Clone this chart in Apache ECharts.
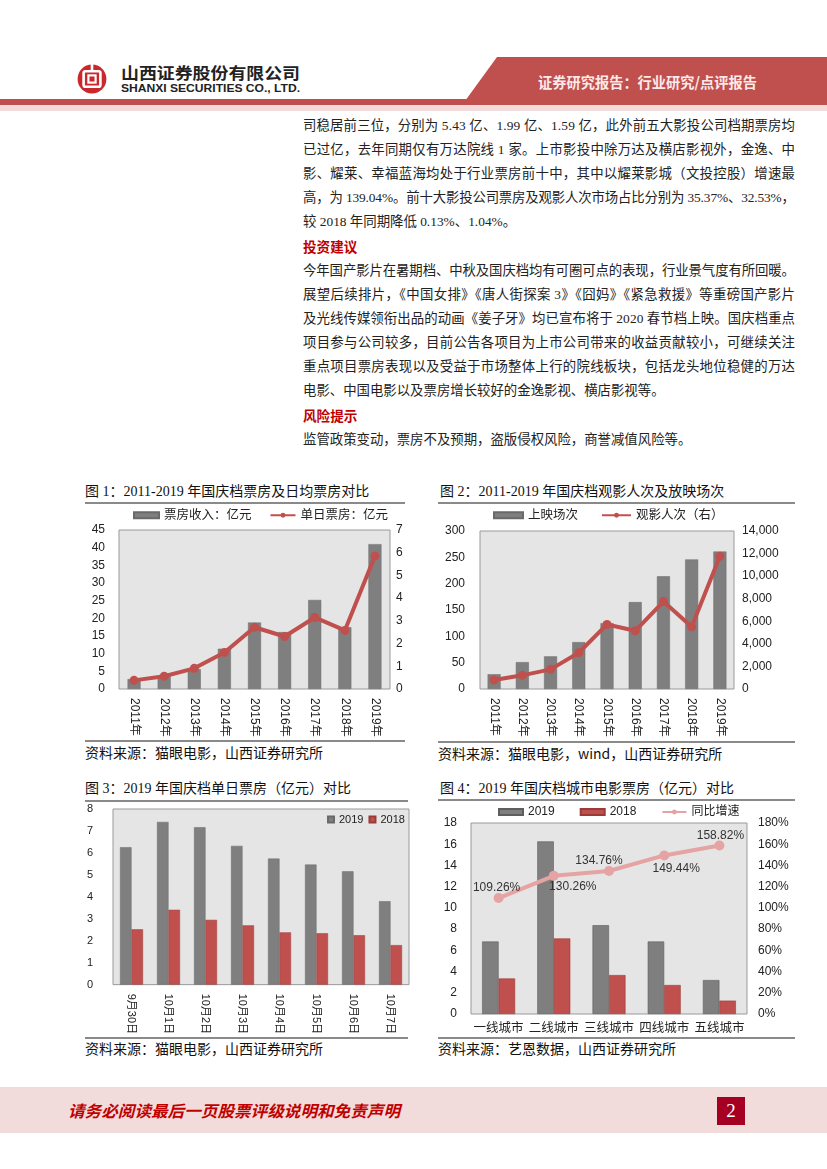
<!DOCTYPE html>
<html><head><meta charset="utf-8">
<script src="https://cdn.jsdelivr.net/npm/echarts@6/dist/echarts.min.js"></script>
<style>
html,body{margin:0;padding:0;background:#fff;}
#page{position:relative;width:827px;height:1169px;overflow:hidden;font-family:"Liberation Serif","Noto Sans CJK SC",serif;}
.abs{position:absolute;white-space:nowrap;}
.jl{position:absolute;left:303px;height:20px;line-height:20px;font-size:13.4px;color:#222;white-space:nowrap;}
.hd{position:absolute;left:303px;height:20px;line-height:20px;font-size:13.6px;color:#c00000;font-weight:bold;font-family:"Noto Sans CJK SC",sans-serif;white-space:nowrap;}
.ttl{position:absolute;height:20px;line-height:20px;font-size:14px;color:#111;white-space:nowrap;}
.src{position:absolute;height:20px;line-height:20px;font-size:14px;color:#111;white-space:nowrap;font-family:"Noto Sans CJK SC",sans-serif;}
.rule{position:absolute;height:2px;background:#8a8a8a;}
.chart{position:absolute;}
</style></head>
<body><div id="page">
<!-- header -->
<svg class="abs" style="left:77px;top:64px" width="30" height="30" viewBox="0 0 25 25">
<circle cx="12.5" cy="12.5" r="12" fill="#c9282d"/>
<rect x="5.5" y="6" width="14" height="13" rx="1.5" fill="none" stroke="#fff" stroke-width="2.2"/>
<rect x="9.5" y="9.5" width="6" height="6" fill="none" stroke="#fff" stroke-width="1.8"/>
<rect x="11.4" y="0" width="2.2" height="6" fill="#fff"/>
</svg>
<div class="abs fit" data-w="179" style="left:121px;top:62px;font-size:16px;line-height:20px;font-weight:bold;color:#222;font-family:'Noto Sans CJK SC',sans-serif;">山西证券股份有限公司</div>
<div class="abs fit" data-w="179" style="left:121px;top:81px;font-size:11.5px;line-height:14px;font-weight:bold;color:#222;font-family:'Liberation Sans',sans-serif;">SHANXI SECURITIES CO., LTD.</div>
<svg class="abs" style="left:0;top:55px" width="827" height="60">
<polygon points="497,2 827,2 827,46 465,46" fill="#c0504d"/>
<rect x="0" y="44" width="827" height="6" fill="#c0504d"/>
<rect x="0" y="50" width="827" height="6" fill="#f2dcdb"/>
</svg>
<div class="abs fit" data-w="219" style="left:538px;top:72px;font-size:14.5px;line-height:20px;font-weight:bold;color:#fde9e9;font-family:'Noto Sans CJK SC',sans-serif;">证券研究报告：行业研究/点评报告</div>

<!-- body text -->
<div class="jl just" style="top:116px">司稳居前三位，分别为 5.43 亿、1.99 亿、1.59 亿，此外前五大影投公司档期票房均</div>
<div class="jl just" style="top:140px">已过亿，去年同期仅有万达院线 1 家。上市影投中除万达及横店影视外，金逸、中</div>
<div class="jl just" style="top:164px">影、耀莱、幸福蓝海均处于行业票房前十中，其中以耀莱影城（文投控股）增速最</div>
<div class="jl just" style="top:188px">高，为 139.04%。前十大影投公司票房及观影人次市场占比分别为 35.37%、32.53%，</div>
<div class="jl" style="top:212px">较 2018 年同期降低 0.13%、1.04%。</div>
<div class="hd" style="top:236px">投资建议</div>
<div class="jl just" style="top:261px">今年国产影片在暑期档、中秋及国庆档均有可圈可点的表现，行业景气度有所回暖。</div>
<div class="jl just" style="top:285px">展望后续排片，《中国女排》《唐人街探案 3》《囧妈》《紧急救援》等重磅国产影片</div>
<div class="jl just" style="top:309px">及光线传媒领衔出品的动画《姜子牙》均已宣布将于 2020 春节档上映。国庆档重点</div>
<div class="jl just" style="top:333px">项目参与公司较多，目前公告各项目为上市公司带来的收益贡献较小，可继续关注</div>
<div class="jl just" style="top:357px">重点项目票房表现以及受益于市场整体上行的院线板块，包括龙头地位稳健的万达</div>
<div class="jl" style="top:381px">电影、中国电影以及票房增长较好的金逸影视、横店影视等。</div>
<div class="hd" style="top:405px">风险提示</div>
<div class="jl" style="top:430px">监管政策变动，票房不及预期，盗版侵权风险，商誉减值风险等。</div>

<!-- chart frames -->
<div class="ttl" style="left:85px;top:482px">图 1：2011-2019 年国庆档票房及日均票房对比</div>
<div class="rule" style="left:85px;top:502px;width:320px"></div>
<div class="rule" style="left:85px;top:740px;width:320px"></div>
<div class="src" style="left:85px;top:742px">资料来源：猫眼电影，山西证券研究所</div>

<div class="ttl" style="left:440px;top:482px">图 2：2011-2019 年国庆档观影人次及放映场次</div>
<div class="rule" style="left:438px;top:502px;width:357px"></div>
<div class="rule" style="left:438px;top:741px;width:357px"></div>
<div class="src" style="left:438px;top:743px">资料来源：猫眼电影，wind，山西证券研究所</div>

<div class="ttl" style="left:85px;top:779px">图 3：2019 年国庆档单日票房（亿元）对比</div>
<div class="rule" style="left:85px;top:800px;width:323px"></div>
<div class="rule" style="left:85px;top:1037px;width:323px"></div>
<div class="src" style="left:85px;top:1038px">资料来源：猫眼电影，山西证券研究所</div>

<div class="ttl" style="left:440px;top:779px">图 4：2019 年国庆档城市电影票房（亿元）对比</div>
<div class="rule" style="left:438px;top:799px;width:357px"></div>
<div class="rule" style="left:438px;top:1037px;width:357px"></div>
<div class="src" style="left:438px;top:1038px">资料来源：艺恩数据，山西证券研究所</div>

<div id="c1" class="chart" style="left:80px;top:505px;width:330px;height:235px"></div>
<div id="c2" class="chart" style="left:430px;top:505px;width:397px;height:235px"></div>
<div id="c3" class="chart" style="left:80px;top:800px;width:330px;height:237px"></div>
<div id="c4" class="chart" style="left:430px;top:800px;width:397px;height:237px"></div>

<!-- footer -->
<div class="abs" style="left:0;top:1087px;width:827px;height:46px;background:#f2dcdb"></div>
<div class="abs fit" data-w="332" style="left:68px;top:1100px;font-size:16px;line-height:20px;font-weight:bold;color:#c00000;font-family:'Noto Sans CJK SC',sans-serif;font-style:italic;">请务必阅读最后一页股票评级说明和免责声明</div>
<div class="abs" style="left:717px;top:1097px;width:28px;height:28px;background:#a50021;color:#fff;font-size:19px;line-height:28px;text-align:center;font-family:'Liberation Serif',serif;">2</div>
</div>
<script>
// ---- data ----
const years = ['2011年','2012年','2013年','2014年','2015年','2016年','2017年','2018年','2019年'];
const boxOffice = [2.8, 3.6, 5.6, 11.4, 18.8, 16.1, 25.2, 17.5, 41.0];
const dailyBoxOffice = [0.38, 0.56, 0.91, 1.61, 2.72, 2.31, 3.15, 2.58, 5.86];
const screenings = [28, 51, 62, 89, 125, 165, 214, 246, 261];
const admissions = [800, 1210, 1740, 3210, 5720, 5160, 7750, 5510, 11760];
const days = ['9月30日','10月1日','10月2日','10月3日','10月4日','10月5日','10月6日','10月7日'];
const daily2019 = [6.26, 7.41, 7.17, 6.32, 5.74, 5.47, 5.16, 3.80];
const daily2018 = [2.52, 3.41, 2.95, 2.70, 2.38, 2.34, 2.25, 1.80];
const cities = ['一线城市','二线城市','三线城市','四线城市','五线城市'];
const city2019 = [6.83, 16.27, 8.37, 6.83, 3.20];
const city2018 = [3.35, 7.12, 3.67, 2.73, 1.26];
const cityGrowth = [109.26, 130.26, 134.76, 149.44, 158.82];
// label offsets (style only)
const growthLabelOffsets = [[-2,-10],[19,11],[-10,-10],[12,13],[1,-10]];

// ---- text fitting ----
document.querySelectorAll('.just').forEach(el => {
  const w = el.getBoundingClientRect().width;
  const n = el.textContent.length;
  const ls = (492 - w) / (n - 1);
  el.style.letterSpacing = ls + 'px';
});
document.querySelectorAll('.fit').forEach(el => {
  const target = +el.dataset.w;
  const w = el.getBoundingClientRect().width;
  el.style.transformOrigin = '0 0';
  el.style.transform = 'scaleX(' + (target / w) + ')';
});

const GRAY = '#7f7f7f', RED = '#c0504d';
const FONT = "'Liberation Sans','Noto Sans CJK SC',sans-serif";
const lab = (extra) => Object.assign({color:'#222', fontSize:12, fontFamily:FONT}, extra||{});
const gridBase = {show:true, backgroundColor:'#e5e5e5', borderColor:'#9a9a9a', borderWidth:1, containLabel:false};
const noLines = {axisLine:{show:false}, axisTick:{show:false}, splitLine:{show:false}};

// Chart 1
echarts.init(document.getElementById('c1')).setOption({
  animation:false,
  legend:{left:53, top:4, padding:0, itemGap:18, itemWidth:25, itemHeight:6,
    textStyle:{fontSize:12.5, color:'#222', fontFamily:FONT},
    data:[{name:'票房收入：亿元', icon:'rect'}, {name:'单日票房：亿元'}]},
  grid:Object.assign({left:39, top:25, width:271, height:159}, gridBase),
  xAxis:Object.assign({type:'category', data:years,
    axisLabel:lab({rotate:-90, margin:9, interval:0})}, noLines),
  yAxis:[
    Object.assign({type:'value', min:0, max:45, interval:5, axisLabel:lab({margin:14})}, noLines),
    Object.assign({type:'value', min:0, max:7, interval:1, axisLabel:lab({margin:6})}, noLines)
  ],
  series:[
    {name:'票房收入：亿元', type:'bar', data:boxOffice, barWidth:13, itemStyle:{color:GRAY, borderColor:'#6a6a6a', borderWidth:0.5}},
    {name:'单日票房：亿元', type:'line', yAxisIndex:1, data:dailyBoxOffice, symbol:'circle', symbolSize:9,
      lineStyle:{color:RED, width:4}, itemStyle:{color:RED}}
  ]
});

// Chart 2
echarts.init(document.getElementById('c2')).setOption({
  animation:false,
  legend:{left:63, top:4, padding:0, itemGap:23, itemWidth:29, itemHeight:6,
    textStyle:{fontSize:12.5, color:'#222', fontFamily:FONT},
    data:[{name:'上映场次', icon:'rect'}, {name:'观影人次（右）'}]},
  grid:Object.assign({left:50, top:26, width:254, height:158}, gridBase),
  xAxis:Object.assign({type:'category', data:years,
    axisLabel:lab({rotate:-90, margin:9, interval:0})}, noLines),
  yAxis:[
    Object.assign({type:'value', min:0, max:300, interval:50, axisLabel:lab({margin:15})}, noLines),
    Object.assign({type:'value', min:0, max:14000, interval:2000,
      axisLabel:lab({margin:8, formatter:v => v.toLocaleString('en-US')})}, noLines)
  ],
  series:[
    {name:'上映场次', type:'bar', data:screenings, barWidth:13, itemStyle:{color:GRAY, borderColor:'#6a6a6a', borderWidth:0.5}},
    {name:'观影人次（右）', type:'line', yAxisIndex:1, data:admissions, symbol:'circle', symbolSize:9,
      lineStyle:{color:RED, width:4}, itemStyle:{color:RED}}
  ]
});

// Chart 3
echarts.init(document.getElementById('c3')).setOption({
  animation:false,
  legend:{left:247, top:14, padding:0, itemGap:5, itemWidth:6, itemHeight:6, icon:'rect',
    textStyle:{fontSize:11, color:'#222', fontFamily:FONT}, data:['2019','2018']},
  grid:Object.assign({left:33, top:9, width:296, height:179}, gridBase),
  xAxis:Object.assign({type:'category', data:days,
    axisLabel:lab({rotate:-90, margin:9, interval:0, fontSize:11})}, noLines),
  yAxis:Object.assign({type:'value', min:0, max:8, interval:1, axisLabel:lab({margin:20, fontSize:11})}, noLines),
  series:[
    {name:'2019', type:'bar', data:daily2019, barWidth:11.5, barGap:'0%', itemStyle:{color:GRAY, borderColor:'#6a6a6a', borderWidth:0.5}},
    {name:'2018', type:'bar', data:daily2018, barWidth:11.5, barGap:'0%', itemStyle:{color:RED, borderColor:'#9b3b38', borderWidth:0.5}}
  ]
});

// Chart 4
echarts.init(document.getElementById('c4')).setOption({
  animation:false,
  legend:{left:68, top:6, padding:0, itemGap:25, itemWidth:24, itemHeight:6,
    textStyle:{fontSize:12, color:'#222', fontFamily:FONT},
    data:[{name:'2019', icon:'rect'}, {name:'2018', icon:'rect'}, {name:'同比增速'}]},
  grid:Object.assign({left:41, top:23, width:276, height:191}, gridBase),
  xAxis:Object.assign({type:'category', data:cities, axisLabel:lab({margin:8, interval:0, fontSize:12.5})}, noLines),
  yAxis:[
    Object.assign({type:'value', min:0, max:18, interval:2, axisLabel:lab({margin:14})}, noLines),
    Object.assign({type:'value', min:0, max:180, interval:20, axisLabel:lab({margin:11, formatter:'{value}%'})}, noLines)
  ],
  series:[
    {name:'2019', type:'bar', data:city2019, barWidth:16.5, barGap:'0%', itemStyle:{color:GRAY, borderColor:'#5e5e5e', borderWidth:0.6}},
    {name:'2018', type:'bar', data:city2018, barWidth:16.5, barGap:'0%', itemStyle:{color:RED, borderColor:'#9b3b38', borderWidth:0.6}},
    {name:'同比增速', type:'line', yAxisIndex:1, symbol:'circle', symbolSize:10,
      lineStyle:{color:'#e6a3a3', width:4}, itemStyle:{color:'#e6a3a3'},
      data:cityGrowth.map((v,i) => ({value:v, label:{show:true, position:'inside', offset:growthLabelOffsets[i],
        formatter:p => p.value.toFixed(2) + '%', color:'#333', fontSize:12, fontFamily:FONT}}))}
  ]
});
</script>
</body></html>
